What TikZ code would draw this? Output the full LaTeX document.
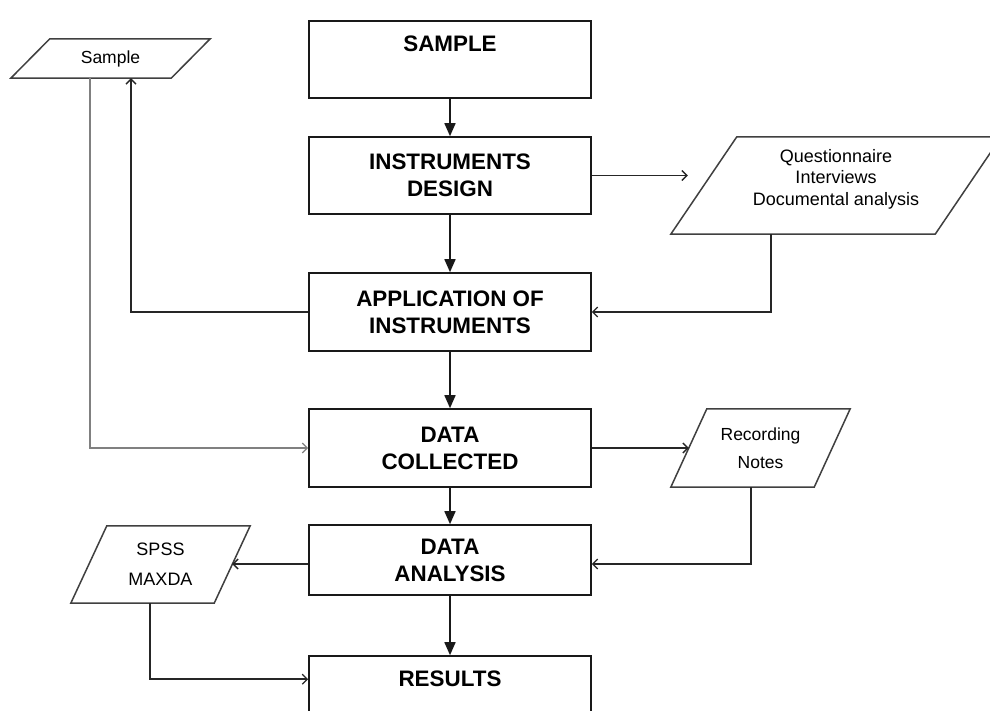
\documentclass[tikz,border=0pt]{standalone}
\usepackage{fontspec}
\setmainfont{Liberation Sans}
\usetikzlibrary{arrows.meta,calc}
\newcommand\parallelo[2]{\draw[pbox] ($(#1.south west)+(-#2,0)$) -- ($(#1.south east)+(-#2,0)$) -- ($(#1.north east)+(#2,0)$) -- ($(#1.north west)+(#2,0)$) -- cycle;}
\begin{document}
\begin{tikzpicture}[x=1pt,y=-1pt,
  mtext/.style={font=\fontsize{22.4}{27}\selectfont\bfseries, align=center},
  mainbox/.style={mtext, draw=black!90, line width=1.6pt, minimum width=282pt, minimum height=78pt, inner sep=0pt},
  flow/.style={line width=1.6pt, draw=black!90, -{Triangle[length=13pt,width=11pt]}},
  side/.style={line width=1.6pt, draw=black!85, -{Straight Barb[length=5pt,width=10pt,line width=1.3pt]}},
  grayside/.style={side, line width=1.4pt, draw=black!50},
  pbody/.style={draw=none, inner sep=0pt},
  ptext/.style={font=\fontsize{17.5}{21.5}\selectfont, align=center, inner sep=0pt},
  pbox/.style={draw=black!75, line width=1.5pt}]
\fill[white] (0,0) rectangle (990,711);
\useasboundingbox (0,0) rectangle (990,711);
\clip (0,0) rectangle (990,711);

% main boxes
\node[mainbox, minimum height=77pt, label={[mtext,yshift=15.5pt]center:SAMPLE}] (sample) at (450,59.5) {};
\node[mainbox, minimum height=77pt] (design) at (450,175.5) {INSTRUMENTS\\DESIGN};
\node[mainbox] (apply) at (450,312) {APPLICATION OF\\INSTRUMENTS};
\node[mainbox] (collect) at (450,448) {DATA\\COLLECTED};
\node[mainbox, minimum height=70pt] (analysis) at (450,560) {DATA\\ANALYSIS};
\node[mainbox, label={[mtext,yshift=16pt]center:RESULTS}] (results) at (450,695) {};

% parallelograms
\node[pbody, minimum width=160pt, minimum height=39pt, label={[ptext]center:Sample}] (psample) at (110.5,58.5) {};
\node[pbody, minimum width=264pt, minimum height=97pt, label={[ptext,font=\fontsize{18}{21.5}\selectfont,yshift=6.5pt]center:Questionnaire\\Interviews\\Documental analysis}] (pquest) at (836,185.5) {};
\node[pbody, minimum width=143pt, minimum height=78pt, label={[ptext,font=\fontsize{17.5}{28}\selectfont]center:Recording\\Notes}] (prec) at (760.5,448) {};
\node[pbody, minimum width=143pt, minimum height=77pt, label={[ptext,font=\fontsize{18}{30}\selectfont]center:SPSS\\MAXDA}] (pspss) at (160.5,564.5) {};
\parallelo{psample}{19.5}
\parallelo{pquest}{33}
\parallelo{prec}{18}
\parallelo{pspss}{18}

% main flow
\draw[flow] (sample) -- (design);
\draw[flow] (design) -- (apply);
\draw[flow] (apply) -- (collect);
\draw[flow] (collect) -- (analysis);
\draw[flow] (analysis) -- (results);

% side connectors
\draw[side, shorten >=16pt] (design.east) -- (design.east -| pquest.west);
\draw[side] ([xshift=-65pt]pquest.south) |- (apply.east);
\draw[side] (apply.west) -| ([xshift=20.5pt]psample.south);
\draw[grayside] ([xshift=-20.5pt]psample.south) |- (collect.west);
\draw[side] (collect.east) -- (prec.west);
\draw[side] ([xshift=-9.5pt]prec.south) |- ([yshift=-4pt]analysis.east);
\draw[side] ([yshift=-4pt]analysis.west) -- ([yshift=-4pt]analysis.west -| pspss.east);
\draw[side] ([xshift=-10.5pt]pspss.south) |- ([yshift=-24pt]results.north west);
\end{tikzpicture}
\end{document}
